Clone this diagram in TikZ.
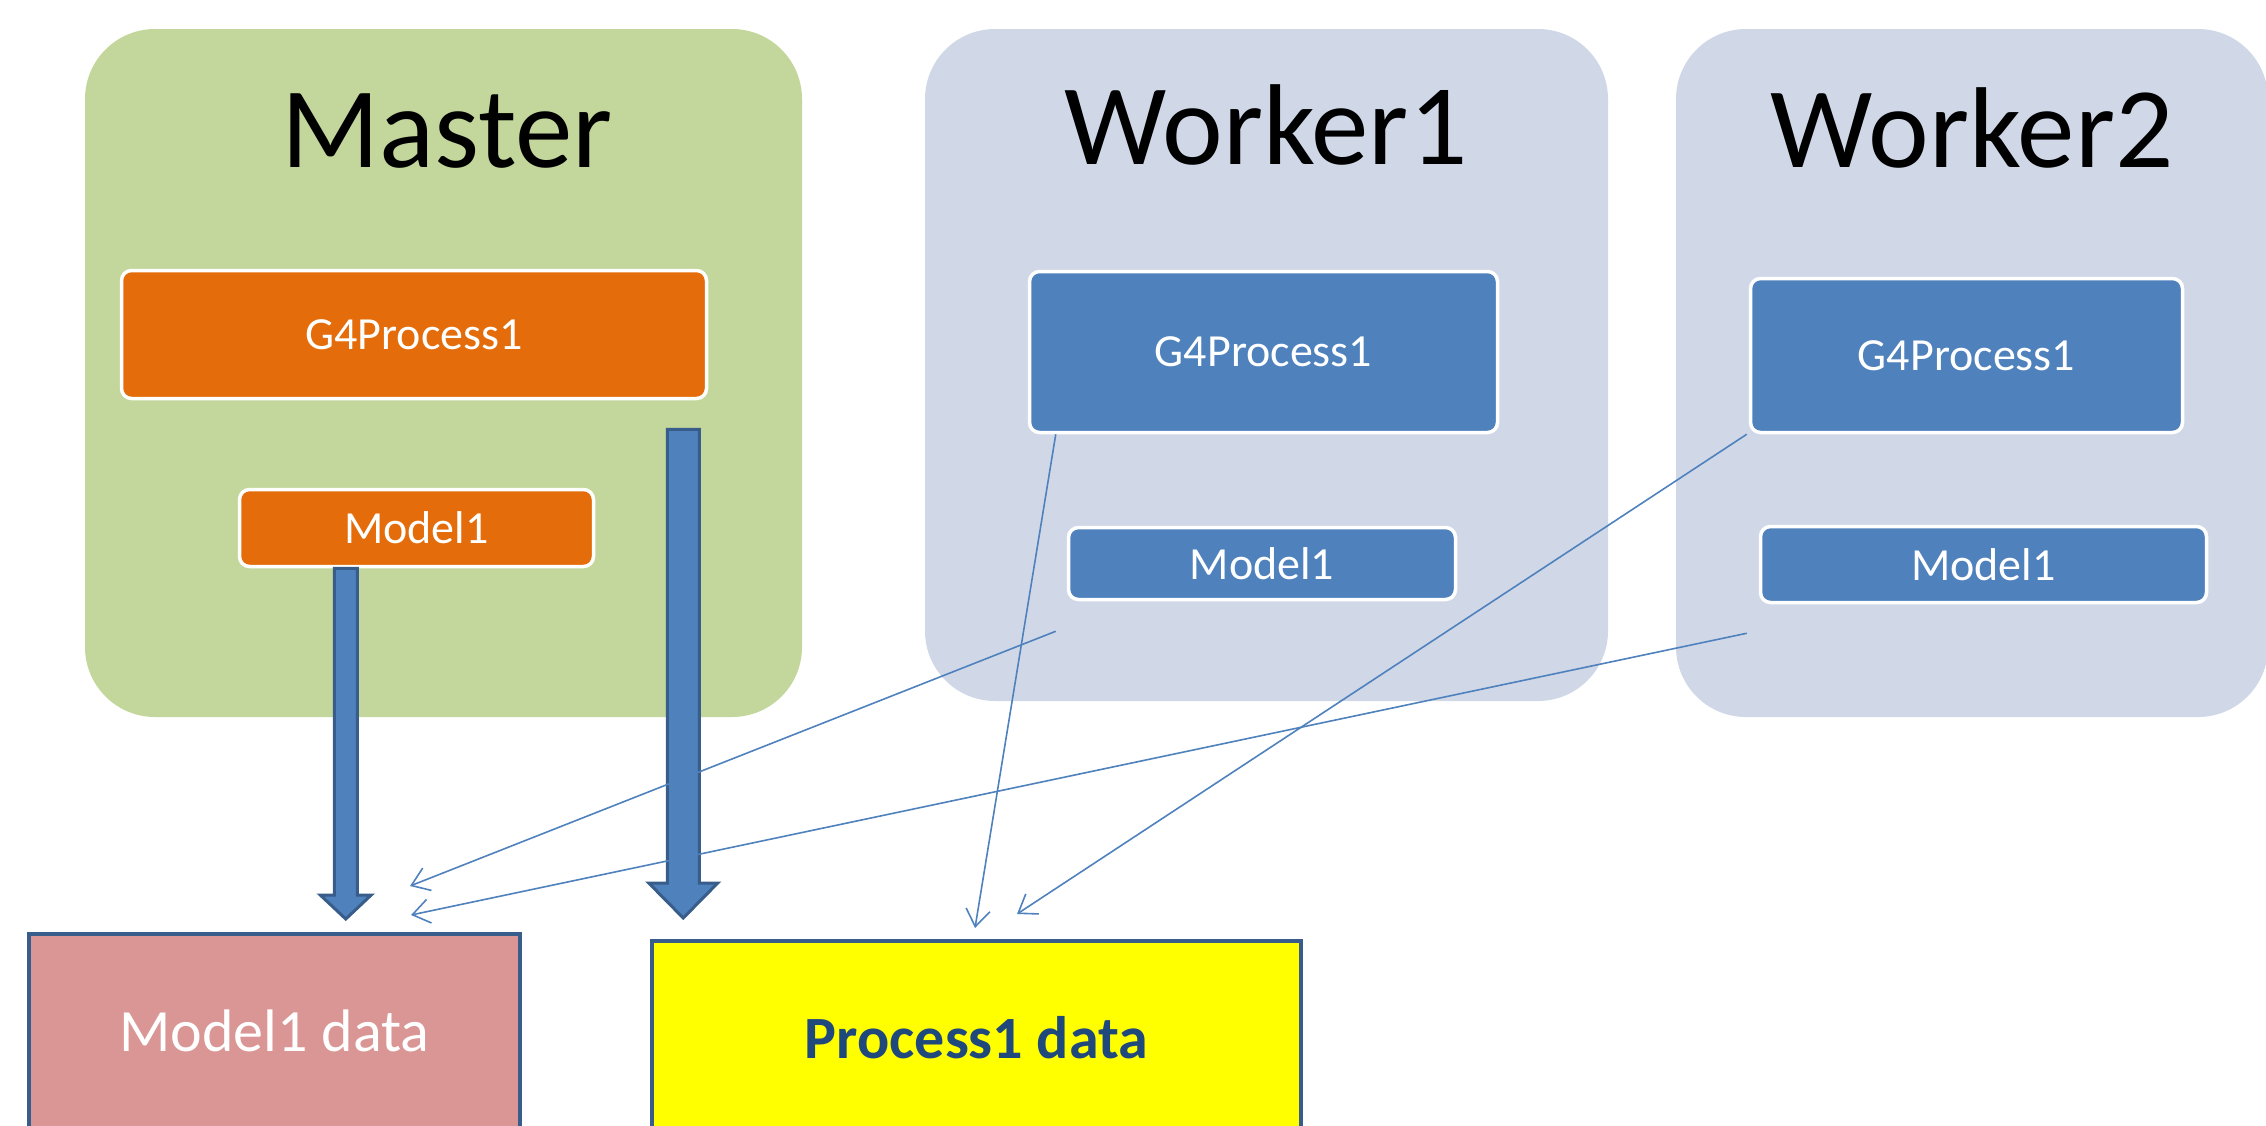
\documentclass[tikz,border=0pt]{standalone}
\usepackage{fontspec}
\setmainfont{Carlito}
\usetikzlibrary{arrows.meta,calc}

\definecolor{vertclair}{HTML}{C3D69B}
\definecolor{bleuclair}{HTML}{D0D8E8}
\definecolor{orangeproc}{HTML}{E46C0A}
\definecolor{bleu}{HTML}{4F81BD}
\definecolor{bleufonce}{HTML}{385D8A}
\definecolor{rose}{HTML}{D99694}
\definecolor{jaune}{HTML}{FFFF00}
\definecolor{textebleu}{HTML}{1F497D}

% grosse fleche : depart, arrivee, demi-corps, demi-tete, longueur de tete
\newcommand\grossefleche[5]{%
  \draw[grosse] let \p1=(#1), \p2=(#2) in
    (\x1-#3,\y1) -- (\x1+#3,\y1) -- (\x1+#3,\y2+#5) -- (\x1+#4,\y2+#5)
    -- (\x1,\y2) -- (\x1-#4,\y2+#5) -- (\x1-#3,\y2+#5) -- cycle;}

\begin{document}
\begin{tikzpicture}[x=1pt,y=-1pt,
    groupe/.style={fill=#1, rounded corners=70pt},
    titre/.style={anchor=base, inner sep=0pt, font=\fontsize{115}{120}\selectfont},
    boite/.style={fill=#1, draw=white, line width=3.5pt, rounded corners=10pt,
      text=white, inner sep=0pt, font=\fontsize{46}{50}\selectfont},
    donnees/.style={fill=#1, draw=bleufonce, line width=4pt, inner sep=0pt,
      font=\fontsize{60}{64}\selectfont},
    grosse/.style={fill=bleu, draw=bleufonce, line width=3pt, line join=miter},
    fleche/.style={draw=bleu, line width=1.6pt, -{Straight Barb[length=17pt,width=24pt]}}]
    \useasboundingbox (0,0) rectangle (2266,1125);

    % Les trois groupes
    \fill[groupe=vertclair] (85,29) rectangle (802,717);
    \fill[groupe=bleuclair] (925,29) rectangle (1608,701);
    \fill[groupe=bleuclair] (1676,29) rectangle (2268,717);

    \node[titre] (tmaster) at (447,167) {Master};
    \node[titre] (tworker1) at (1266,164) {Worker1};
    \node[titre] (tworker2) at (1972,167) {Worker2};

    % Master
    \node[boite=orangeproc, minimum width=585pt, minimum height=128pt] (mproc) at (414,334.5) {G4Process1};
    \node[boite=orangeproc, minimum width=354pt, minimum height=77pt] (mmodel) at (416.5,528) {Model1};

    % Worker1
    \node[boite=bleu, minimum width=468pt, minimum height=161pt] (w1proc) at (1263.5,352) {G4Process1};
    \node[boite=bleu, minimum width=387pt, minimum height=72pt] (w1model) at (1262,563.5) {Model1};

    % Worker2
    \node[boite=bleu, minimum width=432pt, minimum height=154pt] (w2proc) at (1966.5,355.5) {G4Process1};
    \node[boite=bleu, minimum width=446pt, minimum height=76pt] (w2model) at (1983.5,564.5) {Model1};

    % Donnees partagees
    \node[donnees=rose, text=white, minimum width=491pt, minimum height=194pt] (mdata) at (274.5,1031) {Model1 data};
    \node[donnees=jaune, text=textebleu, font=\fontsize{60}{64}\selectfont\bfseries,
      minimum width=649pt, minimum height=194pt] (pdata) at (976.5,1038) {Process1 data};

    % Grosses fleches du master
    \coordinate (a1) at ($(mmodel.south west)+(108,0)$);
    \coordinate (b1) at ($(a1 |- mdata.north)+(0,-13)$);
    \grossefleche{a1}{b1}{11.5pt}{25.5pt}{24pt}
    \coordinate (a2) at ($(mproc.south east)+(-25,29)$);
    \coordinate (b2) at ($(a2 |- pdata.north)+(0,-21)$);
    \grossefleche{a2}{b2}{16pt}{34.5pt}{35pt}

    % Fleches des workers
    \coordinate (w1m) at ($(w1model.south west)+(-11,30)$);
    \coordinate (w2m) at ($(w2model.south west)+(-12,29)$);
    \draw[fleche] ($(w1proc.south west)+(28,0)$) -- ($(pdata.north west)+(325,-11)$);
    \draw[fleche] (w1m) -- ($(mdata.north west)+(383,-46)$);
    \draw[fleche] ($(w2proc.south west)+(-2,0)$) -- ($(pdata.north west)+(367,-25)$);
    \draw[fleche] (w2m) -- ($(mdata.north west)+(384,-17)$);
\end{tikzpicture}
\end{document}
